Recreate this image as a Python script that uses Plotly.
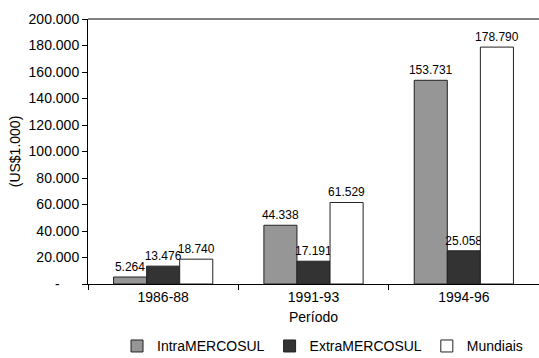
import plotly.graph_objects as go

periodos = ["1986-88", "1991-93", "1994-96"]
intra = [5264, 44338, 153731]
extra = [13476, 17191, 25058]
mundiais = [18740, 61529, 178790]

y_ticks = [0, 20000, 40000, 60000, 80000, 100000, 120000, 140000, 160000, 180000, 200000]
y_ticktext = ["-\u00a0\u00a0\u00a0\u00a0\u00a0", "20.000", "40.000", "60.000", "80.000", "100.000",
              "120.000", "140.000", "160.000", "180.000", "200.000"]


def fmt(v):
    return f"{v:,}".replace(",", ".")


FONT = "Liberation Sans"

series = [
    ("IntraMERCOSUL", intra, "#969696"),
    ("ExtraMERCOSUL", extra, "#333333"),
    ("Mundiais", mundiais, "#ffffff"),
]

fig = go.Figure()
for name, vals, color in series:
    fig.add_trace(go.Bar(
        name=name, x=periodos, y=vals,
        marker=dict(color=color, line=dict(color="#222222", width=1)),
        text=[fmt(v) for v in vals], textposition="outside",
        textfont=dict(family=FONT, size=12, color="#000000"),
        constraintext="none", cliponaxis=False,
    ))

fig.update_layout(
    width=539, height=358,
    margin=dict(l=88, r=0, t=19, b=74, autoexpand=False),
    paper_bgcolor="white", plot_bgcolor="white",
    barmode="group", bargap=0.34, bargroupgap=0,
    font=dict(family=FONT, size=14, color="#000000"),
    showlegend=True,
    legend=dict(orientation="h", x=0.52, xanchor="center", y=-0.175, yanchor="top",
                font=dict(family=FONT, size=14), traceorder="normal",
                itemwidth=30, tracegroupgap=0),
)
fig.update_xaxes(
    showline=True, linecolor="#000000", linewidth=1,
    ticks="outside", tickson="boundaries", ticklen=5, tickcolor="#000000",
    tickfont=dict(family=FONT, size=14),
    title=dict(text="Período", font=dict(family=FONT, size=14), standoff=8),
    showgrid=False, automargin=False,
)
fig.update_yaxes(
    range=[0, 200000], tickvals=y_ticks, ticktext=y_ticktext,
    showline=True, linecolor="#000000", linewidth=1,
    ticks="outside", ticklen=5, tickcolor="#000000",
    tickfont=dict(family=FONT, size=14),
    title=dict(text="(US$1.000)", font=dict(family=FONT, size=14), standoff=4),
    showgrid=False, zeroline=False, automargin=False,
)
# upper border of the plot area
fig.add_shape(type="line", xref="paper", yref="paper", x0=0, x1=1, y0=1, y1=1,
              line=dict(color="#808080", width=2))

fig.write_html("out.html")
